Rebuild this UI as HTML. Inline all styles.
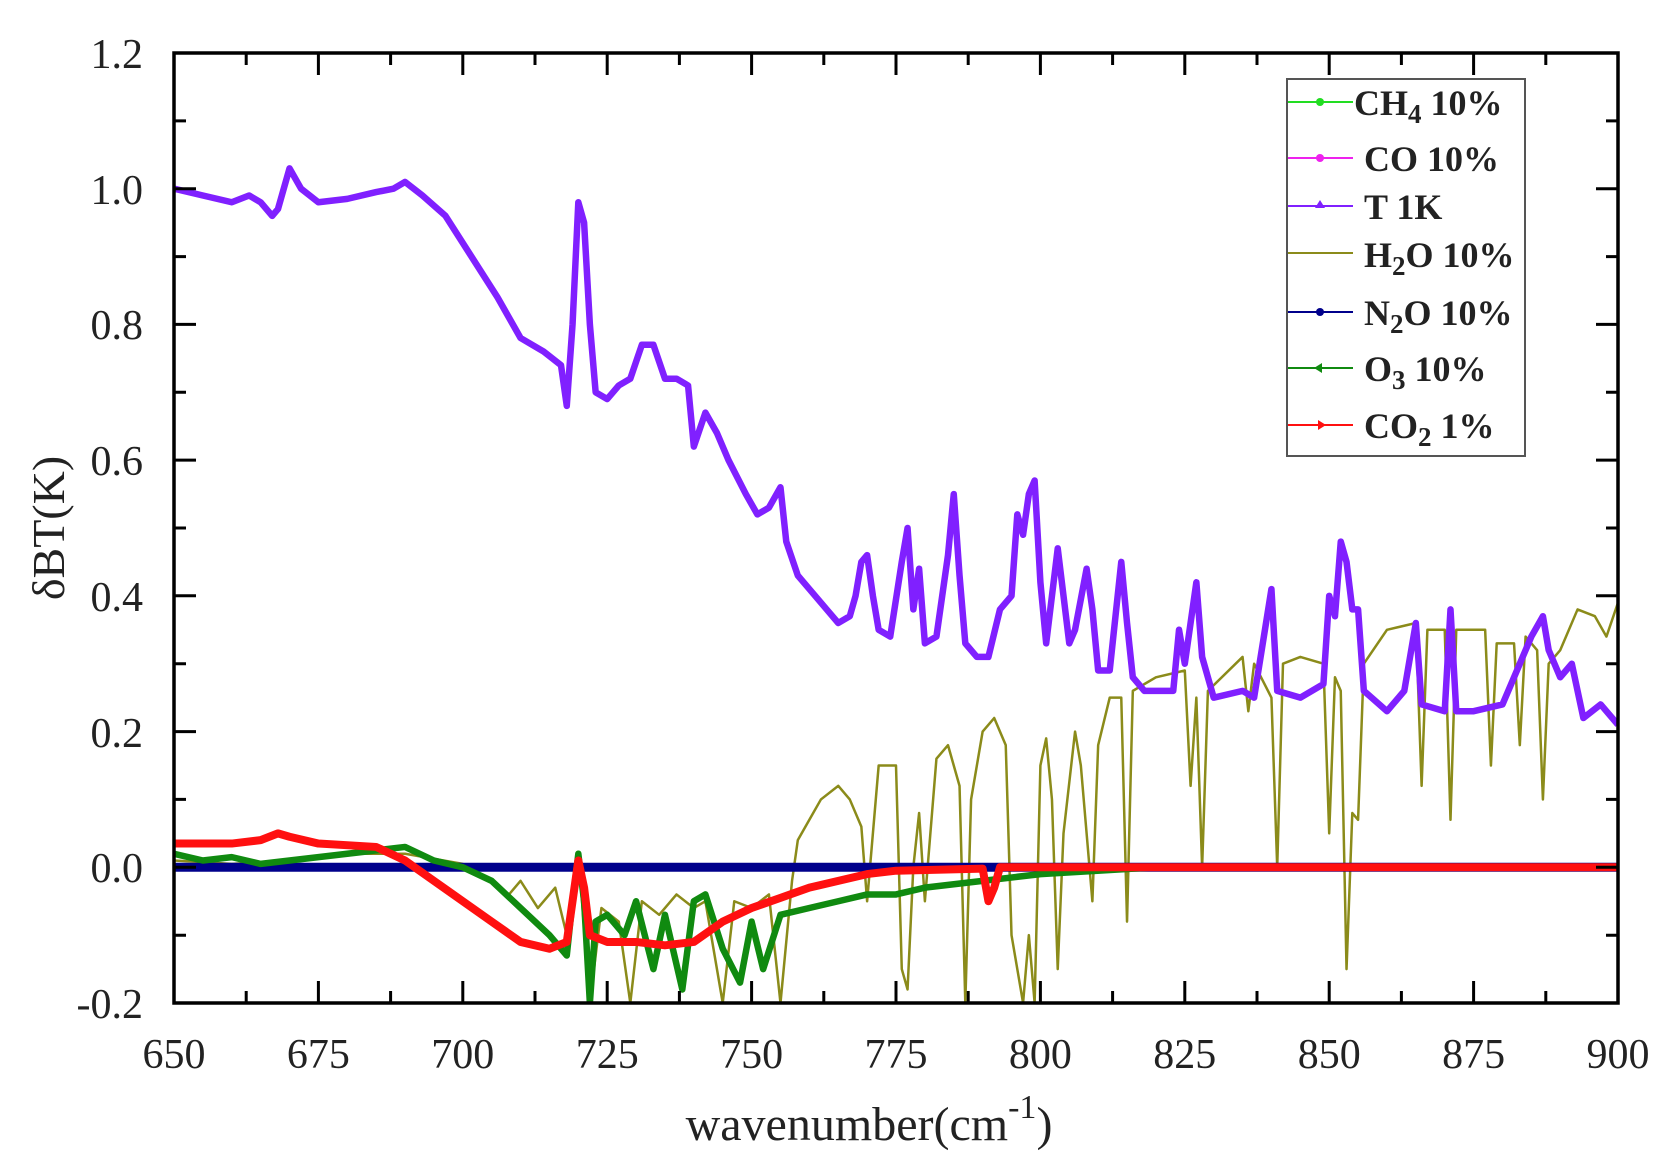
<!DOCTYPE html>
<html><head><meta charset="utf-8"><style>
body{margin:0;background:#fff;}
svg{display:block;font-family:"Liberation Serif",serif;}
</style></head><body>
<svg width="1671" height="1166" viewBox="0 0 1671 1166" xmlns="http://www.w3.org/2000/svg">
<defs><clipPath id="c"><rect x="174" y="53" width="1444" height="950"/></clipPath></defs>
<g clip-path="url(#c)">
<g transform="translate(174,867.3) scale(5.776,-678.6) translate(-650,0)" fill="none" stroke-linejoin="round">
<polyline vector-effect="non-scaling-stroke" stroke="#8b8b1a" stroke-width="2.5" points="650,0.01 660,0.005 670,0.01 680,0.02 690,0.02 700,0.005 705,-0.02 708,-0.04 710,-0.02 713,-0.06 716,-0.03 718,-0.1 720,0.02 722,-0.2 724,-0.06 727,-0.08 729,-0.2 731,-0.05 734,-0.07 737,-0.04 740,-0.06 742,-0.05 745,-0.2 747,-0.05 750,-0.06 753,-0.04 755,-0.2 757,-0.02 758,0.04 760,0.07 762,0.1 765,0.12 767,0.1 769,0.06 770,-0.05 772,0.15 775,0.15 776,-0.15 777,-0.18 778,0 779,0.08 780,-0.05 782,0.16 784,0.18 786,0.12 787,-0.2 788,0.1 790,0.2 792,0.22 794,0.18 795,-0.1 797,-0.2 798,-0.1 799,-0.2 800,0.15 801,0.19 802,0.1 803,-0.15 804,0.05 806,0.2 807,0.15 809,-0.05 810,0.18 812,0.25 814,0.25 815,-0.08 816,0.26 820,0.28 825,0.29 826,0.12 827,0.25 828,0 829,0.26 835,0.31 836,0.23 837,0.3 840,0.25 841,0 842,0.3 845,0.31 849,0.3 850,0.05 851,0.28 852,0.26 853,-0.15 854,0.08 855,0.07 856,0.3 860,0.35 865,0.36 866,0.12 867,0.35 870,0.35 871,0.07 872,0.35 875,0.35 877,0.35 878,0.15 879,0.33 882,0.33 883,0.18 884,0.34 886,0.32 887,0.1 888,0.3 890,0.32 893,0.38 896,0.37 898,0.34 900,0.39"/>
<polyline vector-effect="non-scaling-stroke" stroke="#00008b" stroke-width="9" points="650,0 900,0"/>
<polyline vector-effect="non-scaling-stroke" stroke="#108a10" stroke-width="6.5" points="650,0.02 655,0.01 660,0.015 665,0.005 670,0.01 675,0.015 680,0.02 685,0.025 690,0.03 695,0.01 700,0 705,-0.02 710,-0.06 715,-0.1 718,-0.13 719,-0.05 720,0.02 721,-0.05 722,-0.2 723,-0.08 725,-0.07 728,-0.1 730,-0.05 733,-0.15 735,-0.07 738,-0.18 740,-0.05 742,-0.04 745,-0.12 748,-0.17 750,-0.08 752,-0.15 755,-0.07 760,-0.06 765,-0.05 770,-0.04 775,-0.04 780,-0.03 790,-0.02 800,-0.01 820,0 900,0"/>
<polyline vector-effect="non-scaling-stroke" stroke="#ff1010" stroke-width="8" points="650,0.035 660,0.035 665,0.04 668,0.05 670,0.045 675,0.035 685,0.03 690,0.01 695,-0.02 700,-0.05 705,-0.08 710,-0.11 715,-0.12 718,-0.11 719,-0.05 720,0.01 721,-0.03 722,-0.1 725,-0.11 730,-0.11 735,-0.115 740,-0.11 745,-0.08 750,-0.06 755,-0.045 760,-0.03 765,-0.02 770,-0.01 775,-0.005 790,-0.002 791,-0.05 792,-0.03 793,0 900,0"/>
<polyline vector-effect="non-scaling-stroke" stroke="#8020ff" stroke-width="6.5" points="650,1.0 655,0.99 660,0.98 663,0.99 665,0.98 667,0.96 668,0.97 670,1.03 672,1.0 675,0.98 680,0.985 685,0.995 688,1.0 690,1.01 693,0.99 697,0.96 700,0.92 703,0.88 706,0.84 710,0.78 714,0.76 717,0.74 718,0.68 719,0.8 720,0.98 721,0.95 722,0.8 723,0.7 725,0.69 727,0.71 729,0.72 731,0.77 733,0.77 735,0.72 737,0.72 739,0.71 740,0.62 742,0.67 744,0.64 746,0.6 749,0.55 751,0.52 753,0.53 755,0.56 756,0.48 758,0.43 760,0.41 763,0.38 765,0.36 767,0.37 768,0.4 769,0.45 770,0.46 771,0.4 772,0.35 774,0.34 776,0.45 777,0.5 778,0.38 779,0.44 780,0.33 782,0.34 784,0.46 785,0.55 786,0.43 787,0.33 789,0.31 791,0.31 793,0.38 795,0.4 796,0.52 797,0.49 798,0.55 799,0.57 800,0.42 801,0.33 803,0.47 804,0.4 805,0.33 806,0.35 808,0.44 809,0.38 810,0.29 812,0.29 814,0.45 815,0.36 816,0.28 818,0.26 820,0.26 823,0.26 824,0.35 825,0.3 827,0.42 828,0.31 830,0.25 835,0.26 837,0.25 840,0.41 841,0.26 845,0.25 849,0.27 850,0.4 851,0.37 852,0.48 853,0.45 854,0.38 855,0.38 856,0.26 860,0.23 863,0.26 865,0.36 866,0.24 870,0.23 871,0.38 872,0.23 875,0.23 880,0.24 882,0.28 885,0.34 887,0.37 888,0.32 890,0.28 892,0.3 894,0.22 897,0.24 900,0.21"/>
</g>
</g>
<rect x="174" y="53" width="1444" height="950" fill="none" stroke="#000" stroke-width="3.5"/>
<g stroke="#000" stroke-width="3">
<path d="M174,1003v-22M318.4,1003v-22M462.8,1003v-22M607.2,1003v-22M751.6,1003v-22M896,1003v-22M1040.4,1003v-22M1184.8,1003v-22M1329.2,1003v-22M1473.6,1003v-22M1618,1003v-22
M246.2,1003v-12M390.6,1003v-12M535,1003v-12M679.4,1003v-12M823.8,1003v-12M968.2,1003v-12M1112.6,1003v-12M1257,1003v-12M1401.4,1003v-12M1545.8,1003v-12
M318.4,53v22M462.8,53v22M607.2,53v22M751.6,53v22M896,53v22M1040.4,53v22M1184.8,53v22M1329.2,53v22M1473.6,53v22
M246.2,53v12M390.6,53v12M535,53v12M679.4,53v12M823.8,53v12M968.2,53v12M1112.6,53v12M1257,53v12M1401.4,53v12M1545.8,53v12"/>
<path d="M174,188.7h22M174,324.4h22M174,460.1h22M174,595.8h22M174,731.6h22M174,867.3h22
M174,120.9h12M174,256.6h12M174,392.3h12M174,528h12M174,663.7h12M174,799.4h12M174,935.2h12
M1618,188.7h-22M1618,324.4h-22M1618,460.1h-22M1618,595.8h-22M1618,731.6h-22M1618,867.3h-22
M1618,120.9h-12M1618,256.6h-12M1618,392.3h-12M1618,528h-12M1618,663.7h-12M1618,799.4h-12M1618,935.2h-12"/>
</g>
<g font-size="42" fill="#222" text-anchor="end">
<text x="143" y="68">1.2</text>
<text x="143" y="204">1.0</text>
<text x="143" y="339">0.8</text>
<text x="143" y="475">0.6</text>
<text x="143" y="611">0.4</text>
<text x="143" y="747">0.2</text>
<text x="143" y="882">0.0</text>
<text x="143" y="1018">-0.2</text>
</g>
<g font-size="42" fill="#222" text-anchor="middle">
<text x="174" y="1068">650</text>
<text x="318.4" y="1068">675</text>
<text x="462.8" y="1068">700</text>
<text x="607.2" y="1068">725</text>
<text x="751.6" y="1068">750</text>
<text x="896" y="1068">775</text>
<text x="1040.4" y="1068">800</text>
<text x="1184.8" y="1068">825</text>
<text x="1329.2" y="1068">850</text>
<text x="1473.6" y="1068">875</text>
<text x="1618" y="1068">900</text>
</g>
<text x="869" y="1140" font-size="48" fill="#222" text-anchor="middle">wavenumber(cm<tspan font-size="34" dy="-22">-1</tspan><tspan dy="22">)</tspan></text>
<text transform="translate(64,528) rotate(-90)" font-size="46" fill="#222" text-anchor="middle">δBT(K)</text>
<rect x="1287" y="79" width="238" height="377" fill="#fff" stroke="#555" stroke-width="2"/>
<g stroke-width="2">
<line x1="1288" y1="102" x2="1353" y2="102" stroke="#22dd22"/><circle cx="1320" cy="102" r="4" fill="#22dd22"/>
<line x1="1288" y1="158" x2="1353" y2="158" stroke="#ee22ee"/><circle cx="1320" cy="158" r="4" fill="#ee22ee"/>
<line x1="1288" y1="206" x2="1353" y2="206" stroke="#8020ff"/><path d="M1320,200l5,8h-10z" fill="#8020ff"/>
<line x1="1288" y1="253" x2="1353" y2="253" stroke="#8b8b1a"/>
<line x1="1288" y1="312" x2="1353" y2="312" stroke="#00008b"/><circle cx="1320" cy="312" r="4" fill="#00008b"/>
<line x1="1288" y1="368" x2="1353" y2="368" stroke="#108a10"/><path d="M1314,368l8,-5v10z" fill="#108a10"/>
<line x1="1288" y1="425" x2="1353" y2="425" stroke="#ff1010"/><path d="M1326,425l-8,-5v10z" fill="#ff1010"/>
</g>
<g font-size="36" font-weight="bold" fill="#222">
<text x="1354" y="115">CH<tspan font-size="27" dy="8">4</tspan><tspan dy="-8"> 10%</tspan></text>
<text x="1364" y="171">CO 10%</text>
<text x="1364" y="219">T 1K</text>
<text x="1364" y="267">H<tspan font-size="27" dy="8">2</tspan><tspan dy="-8">O 10%</tspan></text>
<text x="1364" y="325">N<tspan font-size="27" dy="8">2</tspan><tspan dy="-8">O 10%</tspan></text>
<text x="1364" y="381">O<tspan font-size="27" dy="8">3</tspan><tspan dy="-8"> 10%</tspan></text>
<text x="1364" y="438">CO<tspan font-size="27" dy="8">2</tspan><tspan dy="-8"> 1%</tspan></text>
</g>
</svg>
</body></html>
